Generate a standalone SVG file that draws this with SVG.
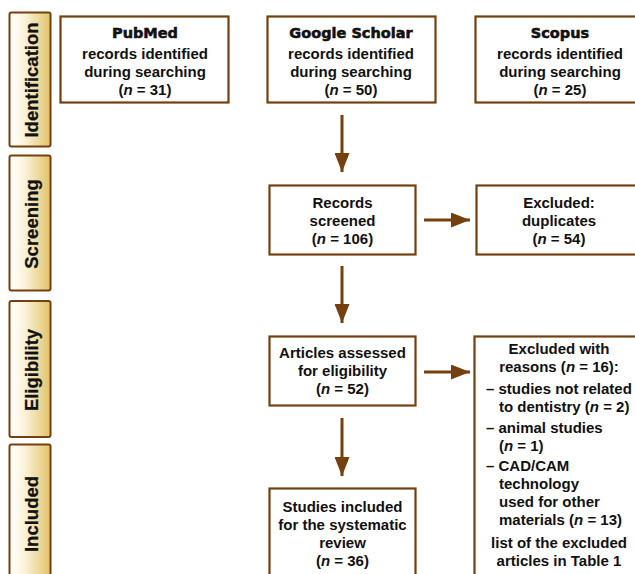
<svg xmlns="http://www.w3.org/2000/svg" width="635" height="574" viewBox="0 0 635 574">
  <defs>
    <linearGradient id="phaseFill" x1="0" y1="0" x2="1" y2="0">
      <stop offset="0" stop-color="#ffffff"/>
      <stop offset="0.35" stop-color="#fbf4dc"/>
      <stop offset="1" stop-color="#e2c26a"/>
    </linearGradient>
    <marker id="head" viewBox="0 0 19 15" refX="19" refY="7.5" markerWidth="19" markerHeight="15" markerUnits="userSpaceOnUse" orient="auto">
      <path d="M0,0 L19,7.5 L0,15 z" fill="#74400f"/>
    </marker>
    <style>
      .phase rect { fill: url(#phaseFill); stroke: #74400f; stroke-width: 2; }
      .phase text { font-family: "Liberation Sans", Arial, sans-serif; font-weight: bold; font-size: 18.5px; fill: #111; text-anchor: middle; stroke: #111; stroke-width: 0.25; }
      .box rect { fill: #ffffff; stroke: #74400f; stroke-width: 2.2; }
      .box text { font-family: "Liberation Sans", Arial, sans-serif; font-weight: bold; font-size: 15px; fill: #111; text-anchor: middle; }
      .box text.title { font-family: "DejaVu Sans", "Liberation Sans", sans-serif; font-size: 14.5px; stroke: #111; stroke-width: 0.55; }
      .box text.left { text-anchor: start; }
      .i { font-style: italic; }
      .conn line { stroke: #74400f; stroke-width: 3; fill: none; marker-end: url(#head); }
    </style>
  </defs>

  <!-- phase bars -->
  <g id="phase-identification" class="phase">
    <rect x="9.5" y="12.5" width="41" height="134" rx="2"/>
    <text transform="translate(37.5,80) rotate(-90)">Identification</text>
  </g>
  <g id="phase-screening" class="phase">
    <rect x="9.5" y="155.5" width="41" height="135" rx="2"/>
    <text transform="translate(37.5,224) rotate(-90)">Screening</text>
  </g>
  <g id="phase-eligibility" class="phase">
    <rect x="9.5" y="301" width="41" height="136" rx="2"/>
    <text transform="translate(37.5,370) rotate(-90)">Eligibility</text>
  </g>
  <g id="phase-included" class="phase">
    <rect x="9.5" y="444.5" width="41" height="140" rx="2"/>
    <text transform="translate(37.5,514) rotate(-90)">Included</text>
  </g>

  <!-- identification sources -->
  <g id="pubmed" class="box">
    <rect x="60.5" y="16.5" width="168" height="86"/>
    <text class="title" x="145" y="37.5">PubMed</text>
    <text x="145" y="58.5">records identified</text>
    <text x="145" y="76.5">during searching</text>
    <text x="145" y="94.5">(<tspan class="i">n</tspan> = 31)</text>
  </g>
  <g id="google-scholar" class="box">
    <rect x="267.5" y="16.5" width="168" height="86"/>
    <text class="title" x="351" y="37.5">Google Scholar</text>
    <text x="351" y="58.5">records identified</text>
    <text x="351" y="76.5">during searching</text>
    <text x="351" y="94.5">(<tspan class="i">n</tspan> = 50)</text>
  </g>
  <g id="scopus" class="box">
    <rect x="475.5" y="16.5" width="168" height="86"/>
    <text class="title" x="560" y="37.5">Scopus</text>
    <text x="560" y="58.5">records identified</text>
    <text x="560" y="76.5">during searching</text>
    <text x="560" y="94.5">(<tspan class="i">n</tspan> = 25)</text>
  </g>

  <!-- screening -->
  <g id="records-screened" class="box">
    <rect x="269.5" y="185.5" width="146" height="69"/>
    <text x="342.5" y="208">Records</text>
    <text x="342.5" y="226">screened</text>
    <text x="342.5" y="244">(<tspan class="i">n</tspan> = 106)</text>
  </g>
  <g id="excluded-duplicates" class="box">
    <rect x="476.5" y="185.5" width="166" height="69"/>
    <text x="559" y="208">Excluded:</text>
    <text x="559" y="226">duplicates</text>
    <text x="559" y="244">(<tspan class="i">n</tspan> = 54)</text>
  </g>

  <!-- eligibility -->
  <g id="articles-assessed" class="box">
    <rect x="269.5" y="336.5" width="146" height="69"/>
    <text x="342.5" y="358">Articles assessed</text>
    <text x="342.5" y="376">for eligibility</text>
    <text x="342.5" y="394">(<tspan class="i">n</tspan> = 52)</text>
  </g>
  <g id="excluded-reasons" class="box">
    <rect x="474.5" y="336.5" width="168" height="250"/>
    <text x="559" y="354">Excluded with</text>
    <text x="559" y="372">reasons (<tspan class="i">n</tspan> = 16):</text>
    <text class="left" x="486" y="394">– studies not related</text>
    <text class="left" x="499" y="412">to dentistry (<tspan class="i">n</tspan> = 2)</text>
    <text class="left" x="486" y="433">– animal studies</text>
    <text class="left" x="499" y="451">(<tspan class="i">n</tspan> = 1)</text>
    <text class="left" x="486" y="471">– CAD/CAM</text>
    <text class="left" x="499" y="489">technology</text>
    <text class="left" x="499" y="507">used for other</text>
    <text class="left" x="499" y="525">materials (<tspan class="i">n</tspan> = 13)</text>
    <text x="559" y="548">list of the excluded</text>
    <text x="559" y="566">articles in Table 1</text>
  </g>

  <!-- included -->
  <g id="studies-included" class="box">
    <rect x="269.5" y="488.5" width="146" height="100"/>
    <text x="342.5" y="512">Studies included</text>
    <text x="342.5" y="530">for the systematic</text>
    <text x="342.5" y="548">review</text>
    <text x="342.5" y="566">(<tspan class="i">n</tspan> = 36)</text>
  </g>

  <!-- connectors -->
  <g id="connectors" class="conn">
    <line x1="342" y1="115" x2="342" y2="172"/>
    <line x1="342" y1="266" x2="342" y2="323"/>
    <line x1="342" y1="418" x2="342" y2="476"/>
    <line x1="424" y1="220" x2="470" y2="220"/>
    <line x1="424" y1="372" x2="470" y2="372"/>
  </g>
</svg>
